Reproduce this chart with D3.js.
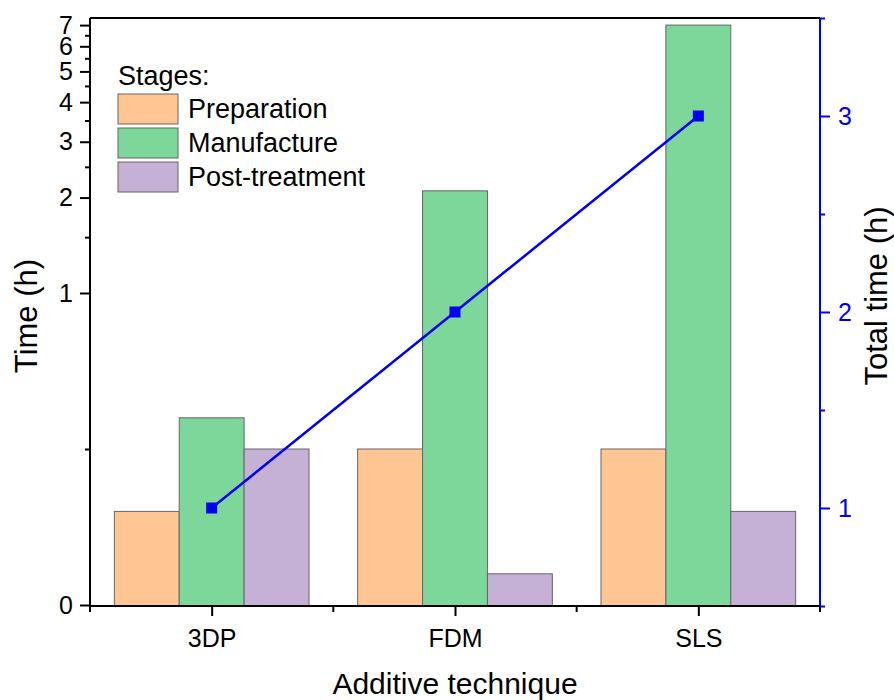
<!DOCTYPE html>
<html>
<head>
<meta charset="utf-8">
<script src="https://cdn.jsdelivr.net/npm/d3@7"></script>
<style>
  body { margin: 0; background: #fff; }
  svg { display: block; font-family: "Liberation Sans", Arial, sans-serif; }
</style>
</head>
<body>
<svg width="894" height="700"></svg>
<script>
const categories = ['3DP', 'FDM', 'SLS']
const stages = ['Preparation', 'Manufacture', 'Post-treatment']
const preparation = [0.3, 0.5, 0.5]
const manufacture = [0.6, 2.1, 7.0]
const postTreatment = [0.5, 0.1, 0.3]
const totalTime = [1, 2, 3]
const leftMajorTicks = [1, 2, 3, 4, 5, 6, 7]
const leftMinorTicks = [1.5, 2.5, 3.5, 4.5, 5.5, 6.5]
const rightMajorTicks = [1, 2, 3]
const rightMinorTicks = [0.5, 1.5, 2.5, 3.5]

const colors = ['#FFC592', '#7DD69A', '#C5B1D5']
const blue = '#0000F0'

const svg = d3.select('svg')
const plotLeft = 90, plotRight = 820, plotTop = 18, plotBottom = 606
const breakY = 293

const x0 = d3.scaleBand().domain(categories).range([plotLeft, plotRight])
  .paddingInner(0.2).paddingOuter(0.1)
const x1 = d3.scaleBand().domain(stages).range([0, x0.bandwidth()])

// lower part linear 0..1, upper part log 1..top
const yLow = d3.scaleLinear().domain([0, 1]).range([plotBottom - 1, breakY])
const yHigh = d3.scaleLog().domain([1, 7.37]).range([breakY, plotTop])
const y = v => v <= 1 ? yLow(v) : yHigh(v)

const yRight = d3.scaleLinear().domain([0.5, 3.5]).range([plotBottom, plotTop])

const series = [preparation, manufacture, postTreatment]
const rows = categories.map((c, i) => ({
  cat: c,
  vals: stages.map((s, j) => ({ stage: s, value: series[j][i], color: colors[j] }))
}))

// bars
const groups = svg.append('g').selectAll('g').data(rows).join('g')
  .attr('transform', d => `translate(${x0(d.cat)},0)`)
groups.selectAll('rect').data(d => d.vals).join('rect')
  .attr('x', d => x1(d.stage))
  .attr('y', d => y(d.value))
  .attr('width', x1.bandwidth())
  .attr('height', d => plotBottom - y(d.value))
  .attr('fill', d => d.color)
  .attr('stroke', '#666')
  .attr('stroke-width', 1)

// frame top
svg.append('line')
  .attr('x1', plotLeft).attr('x2', plotRight).attr('y1', plotTop).attr('y2', plotTop)
  .attr('stroke', '#000').attr('stroke-width', 2)

function styleAxis(g, color) {
  g.selectAll('.domain').remove()
  g.selectAll('line').attr('stroke', color).attr('stroke-width', 2)
  g.selectAll('text').attr('fill', color).style('font-size', '25px')
    .style('font-family', '"Liberation Sans", Arial, sans-serif')
}

// left axis
svg.append('g').attr('transform', `translate(${plotLeft},0)`)
  .call(d3.axisLeft(yHigh).tickValues(leftMajorTicks).tickFormat(d3.format('d')).tickSize(10).tickPadding(7))
  .call(g => styleAxis(g, '#000'))
svg.append('g').attr('transform', `translate(${plotLeft},0)`)
  .call(d3.axisLeft(yHigh).tickValues(leftMinorTicks).tickFormat('').tickSize(5))
  .call(g => styleAxis(g, '#000'))
svg.append('g').attr('transform', `translate(${plotLeft},0)`)
  .call(d3.axisLeft(yLow).tickValues([0]).tickFormat(d3.format('d')).tickSize(10).tickPadding(7))
  .call(g => styleAxis(g, '#000'))
svg.append('g').attr('transform', `translate(${plotLeft},0)`)
  .call(d3.axisLeft(yLow).tickValues([0.5]).tickFormat('').tickSize(5))
  .call(g => styleAxis(g, '#000'))
svg.append('line')
  .attr('x1', plotLeft).attr('x2', plotLeft).attr('y1', plotTop).attr('y2', plotBottom)
  .attr('stroke', '#000').attr('stroke-width', 2)

// bottom axis
const xCenters = d3.scalePoint().domain(categories)
  .range([x0(categories[0]) + x0.bandwidth() / 2, x0(categories[2]) + x0.bandwidth() / 2])
svg.append('g').attr('transform', `translate(0,${plotBottom})`)
  .call(d3.axisBottom(xCenters).tickSize(10).tickPadding(13))
  .call(g => styleAxis(g, '#000'))
const bounds = categories.map(c => x0(c) - x0.step() * 0.1).concat([plotRight])
svg.append('g').selectAll('line').data(bounds).join('line')
  .attr('x1', d => d).attr('x2', d => d).attr('y1', plotBottom).attr('y2', plotBottom + 6)
  .attr('stroke', '#000').attr('stroke-width', 2)
svg.append('line')
  .attr('x1', plotLeft).attr('x2', plotRight).attr('y1', plotBottom).attr('y2', plotBottom)
  .attr('stroke', '#000').attr('stroke-width', 2)

// right axis
svg.append('g').attr('transform', `translate(${plotRight},0)`)
  .call(d3.axisRight(yRight).tickValues(rightMajorTicks).tickFormat(d3.format('d')).tickSize(10).tickPadding(8))
  .call(g => styleAxis(g, blue))
svg.append('g').attr('transform', `translate(${plotRight},0)`)
  .call(d3.axisRight(yRight).tickValues(rightMinorTicks).tickFormat('').tickSize(5))
  .call(g => styleAxis(g, blue))
svg.append('line')
  .attr('x1', plotRight).attr('x2', plotRight).attr('y1', plotTop).attr('y2', plotBottom)
  .attr('stroke', blue).attr('stroke-width', 2)

// total time line
const linePts = categories.map((c, i) => [xCenters(c), yRight(totalTime[i])])
svg.append('path')
  .attr('d', d3.line()(linePts))
  .attr('fill', 'none').attr('stroke', blue).attr('stroke-width', 2.5)
svg.append('g').selectAll('rect').data(linePts).join('rect')
  .attr('x', d => d[0] - 5.5).attr('y', d => d[1] - 5.5)
  .attr('width', 11).attr('height', 11).attr('fill', blue)

// legend
const legend = svg.append('g')
legend.append('text').attr('x', 118).attr('y', 85).style('font-size', '27px').text('Stages:')
stages.forEach((s, i) => {
  const ly = 94 + i * 34
  legend.append('rect').attr('x', 118).attr('y', ly).attr('width', 60).attr('height', 30)
    .attr('fill', colors[i]).attr('stroke', '#666').attr('stroke-width', 1)
  legend.append('text').attr('x', 188).attr('y', ly + 24).style('font-size', '27px').text(s)
})

// axis titles
svg.append('text').attr('transform', 'translate(37,316) rotate(-90)')
  .attr('text-anchor', 'middle').style('font-size', '31px').text('Time (h)')
svg.append('text').attr('transform', 'translate(887,296) rotate(-90)')
  .attr('text-anchor', 'middle').style('font-size', '31px').text('Total time (h)')
svg.append('text').attr('x', 455).attr('y', 694)
  .attr('text-anchor', 'middle').style('font-size', '30px').text('Additive technique')
</script>
</body>
</html>
